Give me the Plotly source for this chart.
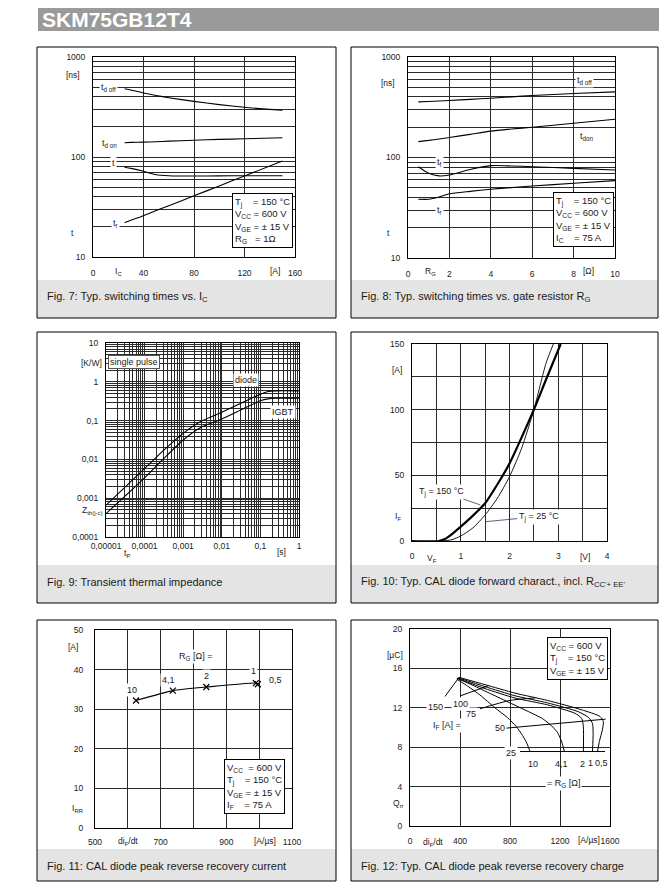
import math
import plotly.graph_objects as go

FONT = 'Arial, Liberation Sans, sans-serif'
OFF = 8  # the page body adds an 8 px margin around the figure
W, H = 667 - 2 * OFF, 890 - 2 * OFF  # keep the page from overflowing the window

# Fig. 7: switching times vs. collector current
ic_a = [25, 30, 40, 50, 60, 80, 100, 120, 150]
td_off_ic = [482, 468, 437, 412, 392, 360, 334, 314, 293]
td_on_ic = [139, 140, 141, 142, 144, 147, 150, 152, 156]
tf_ic = [79, 77, 72, 66.5, 65, 64.5, 64.8, 65, 65]
tr_ic = [22, 23.3, 25.9, 29.1, 32.6, 40.9, 51.4, 64.6, 91]

# Fig. 8: switching times vs. gate resistor
rg_ohm = [0.5, 1, 1.5, 2, 3, 4, 5, 6, 8, 10]
td_off_rg = [358, 361, 365, 369, 379, 389, 401, 414, 433, 450]
td_on_rg = [144, 148, 153, 158, 170, 183, 192, 200, 219, 240]
tf_rg = [81, 69.7, 65.6, 67, 76, 83, 82.4, 81, 78, 75]
tr_rg = [38.4, 38.4, 40.5, 43.5, 46, 48.3, 50.2, 52, 55.4, 58.9]

# Fig. 9: transient thermal impedance
tp_s = [1e-5, 3.16e-5, 1e-4, 3.16e-4, 1e-3, 3.16e-3, 1e-2, 3.16e-2, 0.1, 0.158, 0.25, 1]
zth_diode = [6.6e-4, 0.00196, 0.00585, 0.0174, 0.047, 0.1, 0.164, 0.28, 0.48, 0.56, 0.585, 0.585]
zth_igbt = [4.0e-4, 0.00115, 0.00336, 0.0106, 0.0316, 0.07, 0.11, 0.189, 0.323, 0.363, 0.378, 0.378]

# Fig. 10: diode forward characteristic
vf_150 = [0, 0.55, 0.7, 0.8, 1.0, 1.25, 1.5, 1.75, 2.0, 2.25, 2.5, 2.75, 3.05]
if_150 = [0, 0, 2, 4.6, 10.9, 19.3, 28.7, 43, 59, 79, 100, 123, 150]
vf_25 = [0.55, 0.8, 1.0, 1.25, 1.5, 1.75, 2.0, 2.25, 2.5, 2.75, 2.9]
if_25 = [0, 0.8, 3.8, 10, 19.8, 32.5, 49, 70.7, 100, 135.5, 150]

# Fig. 11: peak reverse recovery current
didt_irr = [625, 737, 839, 990, 996]
irr_a = [32.2, 34.7, 35.6, 36.6, 36.3]
rg_irr_labels = ['10', '4,1', '2', '1', '0,5']

# Fig. 12: reverse recovery charge, one curve per R_G
qrr_rg05_x = [390, 600, 840, 1100, 1373, 1520, 1547, 1539, 1515, 1500]
qrr_rg05_y = [15.1, 14.35, 13.49, 12.75, 11.8, 11.12, 10.6, 9.77, 8.58, 7.56]
qrr_rg1_x = [385, 600, 840, 1100, 1347, 1430, 1460, 1465, 1460]
qrr_rg1_y = [15.05, 14.15, 13.22, 12.5, 11.6, 11.0, 10.4, 9.4, 7.56]
qrr_rg2_x = [380, 600, 840, 1100, 1320, 1373, 1387, 1387]
qrr_rg2_y = [15.0, 13.95, 12.99, 12.3, 11.44, 10.93, 10.1, 7.56]
qrr_rg41_x = [375, 500, 650, 800, 950, 1060, 1130, 1180, 1215, 1235]
qrr_rg41_y = [15.0, 14.3, 13.4, 12.5, 11.6, 10.9, 10.2, 9.5, 8.5, 7.56]
qrr_rg10_x = [375, 450, 560, 680, 780, 850, 900, 935, 960]
qrr_rg10_y = [14.9, 14.3, 13.3, 12.0, 11.0, 10.1, 9.2, 8.4, 7.56]
# lines of constant I_F
iso_if25_x = [880, 1560]
iso_if25_y = [7.56, 7.56]
iso_if50_x = [765, 1565]
iso_if50_y = [9.93, 10.85]
iso_if75_x = [560, 800, 1000]
iso_if75_y = [11.9, 12.75, 13.0]
iso_if100_x = [400, 627]
iso_if100_y = [13.2, 14.24]
iso_if150_x = [280, 387]
iso_if150_y = [13.15, 15.0]


def fx(x):
    return (x - OFF) / W


def fy(y):
    return 1 - (y - OFF) / H


def log_grid(lo, hi, labels):
    # labelled decades as major ticks, 2..9 as minor grid lines
    major, text, minor = [], [], []
    for e in range(lo, hi + 1):
        major.append(10.0 ** e)
        text.append(labels[e])
        if e < hi:
            minor += [m * 10.0 ** e for m in range(2, 10)]
    return major, text, minor


def lin_grid(lo, hi, step, labels):
    major, text, minor = [], [], []
    v = lo
    while v <= hi + 1e-9:
        key = round(v, 6)
        if key in labels:
            major.append(v)
            text.append(labels[key])
        else:
            minor.append(v)
        v += step
    return major, text, minor


fig = go.Figure()
annotations = []
shapes = []


def line(n, x, y, width=1.1, shape='spline', **kw):
    fig.add_trace(go.Scatter(
        x=x, y=y, xaxis='x%d' % n, yaxis='y%d' % n, mode='lines',
        line=dict(color='black', width=width, shape=shape, smoothing=0.6),
        hoverinfo='skip', showlegend=False, **kw))


def note(text, x, y, xref='paper', yref='paper', size=8.5, bg=None, border=0, **kw):
    d = dict(text=text, x=x, y=y, xref=xref, yref=yref, showarrow=False,
             xanchor='center', yanchor='middle',
             font=dict(family=FONT, size=size, color='#1a1a1a'))
    if bg:
        d.update(bgcolor=bg, borderpad=1)
    if border:
        d.update(bordercolor='black', borderwidth=border, borderpad=2)
    d.update(kw)
    annotations.append(d)


def pnote(text, x, y, **kw):
    note(text, fx(x), fy(y), **kw)


def rect(x0, x1, y0, y1, **kw):
    shapes.append(dict(type='rect', xref='paper', yref='paper', x0=fx(x0), x1=fx(x1),
                       y0=fy(y1), y1=fy(y0), **kw))


common = dict(showline=True, mirror=True, linecolor='black', linewidth=1,
              showgrid=True, gridcolor='#2a2a2a', gridwidth=1, zeroline=False,
              ticks='', fixedrange=True, automargin=False,
              tickfont=dict(family=FONT, size=8.5, color='#1a1a1a'))

axes = {}


def set_axes(n, xpx, ypx, xtype, xrange, xticks, ytype, yrange, yticks, xstand=6, ystand=5):
    grid = dict(showgrid=True, gridcolor='#2a2a2a', gridwidth=1, ticks='')
    axes['xaxis%d' % n] = dict(common, domain=[fx(xpx[0]), fx(xpx[1])], type=xtype, range=xrange,
                               tickvals=xticks[0], ticktext=xticks[1], anchor='y%d' % n,
                               minor=dict(grid, tickvals=xticks[2]), ticklabelstandoff=xstand)
    axes['yaxis%d' % n] = dict(common, domain=[fy(ypx[1]), fy(ypx[0])], type=ytype, range=yrange,
                               tickvals=yticks[0], ticktext=yticks[1], anchor='x%d' % n,
                               minor=dict(grid, tickvals=yticks[2]), ticklabelstandoff=ystand)


def panel(x0, x1, y0, y1, caption, cap_y):
    rect(x0, x1, cap_y - 17, y1, fillcolor='#e4e4e4', line=dict(width=0), layer='below')
    rect(x0, x1, y0, y1, line=dict(color='black', width=1))
    pnote(caption, x0 + 8, cap_y, size=11, xanchor='left')


# ---------------- page header ----------------
rect(38, 659, 4.5, 31, fillcolor='#9a9a9a', line=dict(width=0), layer='below')
pnote('<b>SKM75GB12T4</b>', 40, 19, xanchor='left', font=dict(family=FONT, size=21, color='white'))

# ---------------- Fig. 7 ----------------
panel(37, 336, 47, 318, 'Fig. 7: Typ. switching times vs. I<sub>C</sub>', 297)
set_axes(1, (93, 295), (57, 257), 'linear', [0, 160],
         lin_grid(0, 160, 40, {0: '0', 40: '40', 80: '80', 120: '120', 160: '160'}),
         'log', [1, 3], log_grid(1, 3, {1: '10', 2: '100', 3: '1000'}), xstand=8)
line(1, ic_a, td_off_ic)
line(1, ic_a, td_on_ic)
line(1, ic_a, tf_ic)
line(1, ic_a, tr_ic)
note('t<sub>d off</sub>', 12.4, math.log10(500), 'x1', 'y1', size=9, bg='white')
note('t<sub>d on</sub>', 13.2, math.log10(138), 'x1', 'y1', size=9, bg='white')
note('t', 16.4, math.log10(87), 'x1', 'y1', size=9, bg='white')
note('t<sub>r</sub>', 17.7, math.log10(21.5), 'x1', 'y1', size=9, bg='white')
pnote('[ns]', 73, 75)
pnote('t', 72, 233)
pnote('I<sub>C</sub>', 118, 271)
pnote('[A]', 275, 271)
pnote('T<sub>j</sub>\u00a0\u00a0\u00a0 = 150 °C<br>V<sub>CC</sub> = 600 V<br>V<sub>GE</sub> = ± 15 V<br>R<sub>G</sub>\u00a0\u00a0 = 1Ω',
      293, 248, size=9.5, border=1, bgcolor='white', xanchor='right', yanchor='bottom', align='left')

# ---------------- Fig. 8 ----------------
panel(351, 658, 47, 318, 'Fig. 8: Typ. switching times vs. gate resistor R<sub>G</sub>', 297)
set_axes(2, (408, 615), (57, 258), 'linear', [0, 10],
         lin_grid(0, 10, 2, {0: '0', 2: '2', 4: '4', 6: '6', 8: '8', 10: '10'}),
         'log', [1, 3], log_grid(1, 3, {1: '10', 2: '100', 3: '1000'}), xstand=8)
line(2, rg_ohm, td_off_rg)
line(2, rg_ohm, td_on_rg)
line(2, rg_ohm, tf_rg)
line(2, rg_ohm, tr_rg)
note('t<sub>d off</sub>', 8.55, math.log10(588), 'x2', 'y2', size=9, bg='white')
note('t<sub>don</sub>', 8.63, math.log10(161), 'x2', 'y2', size=9, bg='white')
note('t<sub>f</sub>', 1.53, math.log10(89), 'x2', 'y2', size=9, bg='white')
note('t<sub>r</sub>', 1.53, math.log10(30), 'x2', 'y2', size=9, bg='white')
pnote('[ns]', 388, 83)
pnote('t', 388, 233)
pnote('R<sub>G</sub>', 430, 271)
pnote('[Ω]', 588, 271)
pnote('T<sub>j</sub>\u00a0\u00a0\u00a0 = 150 °C<br>V<sub>CC</sub> = 600 V<br>V<sub>GE</sub> = ± 15 V<br>I<sub>C</sub>\u00a0\u00a0\u00a0 = 75 A',
      614, 247, size=9.5, border=1, bgcolor='white', xanchor='right', yanchor='bottom', align='left')

# ---------------- Fig. 9 ----------------
panel(37, 336, 332, 603, 'Fig. 9: Transient thermal impedance', 582)
set_axes(3, (106, 299), (343, 537), 'log', [-5, 0],
         log_grid(-5, 0, {-5: '0,00001', -4: '0,0001', -3: '0,001', -2: '0,01', -1: '0,1', 0: '1'}),
         'log', [-4, 1],
         log_grid(-4, 1, {-4: '0,0001', -3: '0,001', -2: '0,01', -1: '0,1', 0: '1', 1: '10'}), xstand=1)
line(3, tp_s, zth_diode)
line(3, tp_s, zth_igbt)
note('diode', -1.362, 0.052, 'x3', 'y3', size=9, bg='white')
note('IGBT', -0.414, -0.784, 'x3', 'y3', size=9, bg='white')
pnote('single pulse', 134, 362, size=9, bgcolor='white', bordercolor='#555', borderwidth=1, borderpad=1)
pnote('[K/W]', 91, 363)
pnote('Z<sub>th(j-c)</sub>', 92, 510)
pnote('t<sub>P</sub>', 127, 553)
pnote('[s]', 281, 552)

# ---------------- Fig. 10 ----------------
panel(351, 658, 332, 603, "Fig. 10: Typ. CAL diode forward charact., incl. R<sub>CC'+ EE'</sub>", 582)
set_axes(4, (412, 607), (344, 541), 'linear', [0, 4],
         lin_grid(0, 4, 0.5, {0: '0', 1: '1', 2: '2', 3: '3', 4: '4'}),
         'linear', [0, 150], lin_grid(0, 150, 25, {0: '0', 50: '50', 100: '100', 150: '150'}), xstand=7)
line(4, vf_150, if_150, width=2.2)
line(4, vf_25, if_25, width=0.9)
annotations.append(dict(text='T<sub>j</sub> = 150 °C', x=1.40, y=27.5, ax=0.61, ay=37.6,
                        xref='x4', yref='y4', axref='x4', ayref='y4', showarrow=True, arrowhead=0,
                        arrowwidth=0.8, bgcolor='white', font=dict(family=FONT, size=9, color='#1a1a1a')))
annotations.append(dict(text='T<sub>j</sub> = 25 °C', x=1.5, y=14.7, ax=2.6, ay=18.6,
                        xref='x4', yref='y4', axref='x4', ayref='y4', showarrow=True, arrowhead=0,
                        arrowwidth=0.8, bgcolor='white', font=dict(family=FONT, size=9, color='#1a1a1a')))
pnote('[A]', 397, 370)
pnote('I<sub>F</sub>', 398, 517)
pnote('V<sub>F</sub>', 432, 558)
pnote('[V]', 585, 557)

# ---------------- Fig. 11 ----------------
panel(37, 336, 620, 881, 'Fig. 11: CAL diode peak reverse recovery current', 866)
set_axes(5, (95, 292), (630, 828), 'linear', [500, 1100],
         lin_grid(500, 1100, 100, {500: '500', 700: '700', 900: '900', 1100: '1100'}),
         'linear', [0, 50], lin_grid(0, 50, 10, {0: '0', 10: '10', 20: '20', 30: '30', 40: '40', 50: '50'}),
         xstand=6, ystand=9)
fig.add_trace(go.Scatter(x=didt_irr, y=irr_a, xaxis='x5', yaxis='y5', mode='lines+markers',
                         line=dict(color='black', width=1.1, shape='spline', smoothing=0.5),
                         marker=dict(symbol='x-thin', size=6, line=dict(color='black', width=1.2)),
                         hoverinfo='skip', showlegend=False))
label_shift = [(-4, 10), (-4, 11), (0, 11), (-2, 12), (18, 4)]
for lab, xv, yv, (dx, dy) in zip(rg_irr_labels, didt_irr, irr_a, label_shift):
    note(lab, xv, yv, 'x5', 'y5', size=9, bg='white', xshift=dx, yshift=dy)
note('R<sub>G</sub> [Ω] =', 805, 43.4, 'x5', 'y5', size=9, bg='white')
pnote('[A]', 73, 647)
pnote('I<sub>RR</sub>', 78, 808)
pnote('di<sub>F</sub>/dt', 128, 841)
pnote('[A/µs]', 265, 841)
pnote('V<sub>CC</sub>\u00a0 = 600 V<br>T<sub>j</sub>\u00a0\u00a0\u00a0 = 150 °C<br>V<sub>GE</sub> = ± 15 V<br>I<sub>F</sub>\u00a0\u00a0\u00a0 = 75 A',
      285, 814, size=9.5, border=1, bgcolor='white', xanchor='right', yanchor='bottom', align='left')

# ---------------- Fig. 12 ----------------
panel(351, 658, 620, 881, 'Fig. 12: Typ. CAL diode peak reverse recovery charge', 866)
set_axes(6, (410, 610), (629, 826), 'linear', [0, 1600],
         lin_grid(0, 1600, 400, {0: '0', 400: '400', 800: '800', 1200: '1200', 1600: '1600'}),
         'linear', [0, 20], lin_grid(0, 20, 4, {0: '0', 4: '4', 8: '8', 12: '12', 16: '16', 20: '20'}),
         xstand=7)
line(6, qrr_rg05_x, qrr_rg05_y, width=1)
line(6, qrr_rg1_x, qrr_rg1_y, width=1)
line(6, qrr_rg2_x, qrr_rg2_y, width=1)
line(6, qrr_rg41_x, qrr_rg41_y, width=1)
line(6, qrr_rg10_x, qrr_rg10_y, width=1)
line(6, iso_if25_x, iso_if25_y, width=1, shape='linear')
line(6, iso_if50_x, iso_if50_y, width=1, shape='linear')
line(6, iso_if75_x, iso_if75_y, width=1, shape='spline')
line(6, iso_if100_x, iso_if100_y, width=1, shape='linear')
line(6, iso_if150_x, iso_if150_y, width=1, shape='linear')
note('150', 200, 12.07, 'x6', 'y6', size=9, bg='white')
note('100', 400, 12.4, 'x6', 'y6', size=9, bg='white')
note('75', 488, 11.39, 'x6', 'y6', size=9, bg='white')
note('50', 720, 9.93, 'x6', 'y6', size=9, bg='white')
note('25', 805, 7.4, 'x6', 'y6', size=9, bg='white')
note('I<sub>F</sub> [A] =', 293, 10.17, 'x6', 'y6', size=9, bg='white')
note('10', 987, 6.3, 'x6', 'y6', size=9)
note('4,1', 1208, 6.3, 'x6', 'y6', size=9)
note('2', 1379, 6.3, 'x6', 'y6', size=9)
note('1', 1440, 6.44, 'x6', 'y6', size=9)
note('0,5', 1528, 6.44, 'x6', 'y6', size=9)
note('= R<sub>G</sub> [Ω]', 1227, 4.27, 'x6', 'y6', size=9, bg='white')
pnote('[µC]', 395, 655)
pnote('Q<sub>rr</sub>', 398, 803)
pnote('di<sub>F</sub>/dt', 433, 842)
pnote('[A/µs]', 589, 840)
pnote('V<sub>CC</sub> = 600 V<br>T<sub>j</sub>\u00a0\u00a0\u00a0 = 150 °C<br>V<sub>GE</sub> = ± 15 V',
      608, 637, size=9.5, border=1, bgcolor='white', xanchor='right', yanchor='top', align='left')

axes['xaxis'] = axes.pop('xaxis1')
axes['yaxis'] = axes.pop('yaxis1')
axes['xaxis']['anchor'] = 'y'
axes['yaxis']['anchor'] = 'x'
for tr in fig.data:
    if tr.xaxis == 'x1':
        tr.xaxis = 'x'
        tr.yaxis = 'y'
for a in annotations:
    if a.get('xref') == 'x1':
        a['xref'] = 'x'
        a['yref'] = 'y'

fig.update_layout(
    width=W, height=H,
    margin=dict(l=0, r=0, t=0, b=0, pad=0),
    paper_bgcolor='white',
    plot_bgcolor='rgba(0,0,0,0)',
    font=dict(family=FONT, color='#1a1a1a'),
    showlegend=False,
    shapes=shapes,
    annotations=annotations,
    **axes
)

fig.write_html("out.html")
